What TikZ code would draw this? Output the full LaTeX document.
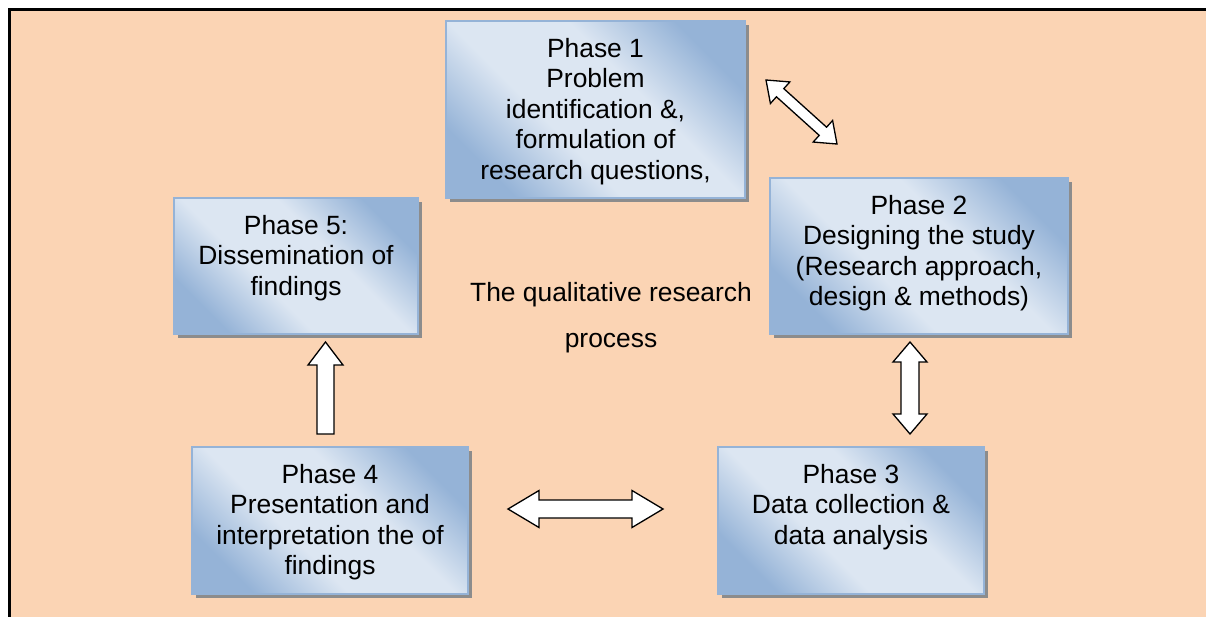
\documentclass[tikz,border=0pt]{standalone}
\usepackage{fontspec}
\setmainfont{Liberation Sans}
\usetikzlibrary{calc,shadows}

\definecolor{peach}{HTML}{FBD4B4}
\definecolor{boxlight}{HTML}{DCE6F2}
\definecolor{boxdark}{HTML}{95B3D7}
\definecolor{shadowgray}{HTML}{8C8C8C}

% dark corners, wide light band across the middle
\pgfdeclareverticalshading{phaseshade}{100bp}{color(0bp)=(boxdark); color(25bp)=(boxdark);
  color(41bp)=(boxlight); color(59bp)=(boxlight); color(75bp)=(boxdark); color(100bp)=(boxdark)}

% text of a phase box, set from the top
\newcommand{\phasetext}[3]{\parbox[t][#2][t]{#1}{\centering #3}}

% block arrows: (from) (to) half shaft, half head, head length
\newcommand{\dblarrow}[5]{%
  \draw[blockarrow] (#1) -- ($(#1)!#5!(#2)!#4!90:(#2)$) -- ($(#1)!#5!(#2)!#3!90:(#2)$)
    -- ($(#2)!#5!(#1)!#3!-90:(#1)$) -- ($(#2)!#5!(#1)!#4!-90:(#1)$) -- (#2)
    -- ($(#2)!#5!(#1)!#4!90:(#1)$) -- ($(#2)!#5!(#1)!#3!90:(#1)$)
    -- ($(#1)!#5!(#2)!#3!-90:(#2)$) -- ($(#1)!#5!(#2)!#4!-90:(#2)$) -- cycle;}
\newcommand{\onearrow}[5]{%
  \draw[blockarrow] ($(#1)!#3!90:(#2)$) -- ($(#2)!#5!(#1)!#3!-90:(#1)$)
    -- ($(#2)!#5!(#1)!#4!-90:(#1)$) -- (#2) -- ($(#2)!#5!(#1)!#4!90:(#1)$)
    -- ($(#2)!#5!(#1)!#3!90:(#1)$) -- ($(#1)!#3!-90:(#2)$) -- cycle;}

\begin{document}
\begin{tikzpicture}[x=1pt, y=-1pt,
    phase/.style={anchor=north west, draw=boxdark, line width=2pt,
      shading=phaseshade, shading angle=-45,
      drop shadow={shadow xshift=4pt, shadow yshift=-4pt, fill=shadowgray, opacity=1},
      inner xsep=0pt, inner ysep=17pt, font=\fontsize{26.4}{30.5}\selectfont},
    blockarrow/.style={draw=black, fill=white, line width=1.3pt, line join=miter}]
  \useasboundingbox (0,0) rectangle (1206,617);
  \fill[peach] (10,10) rectangle (1206,617);
  \draw[line width=2.5pt] (9.7,617) -- (9.7,9.3) -- (1206,9.3);

  \node[phase] (p1) at (445,20) {\phasetext{299pt}{143pt}{Phase 1\\Problem\\identification \&,\\formulation of\\research questions,}};
  \node[phase] (p2) at (769,177) {\phasetext{298pt}{122pt}{Phase 2\\Designing the study\\(Research approach,\\design \& methods)}};
  \node[phase] (p3) at (717,446) {\phasetext{266pt}{113pt}{Phase 3\\Data collection \&\\data analysis}};
  \node[phase] (p4) at (191,446) {\phasetext{276pt}{113pt}{Phase 4\\Presentation and\\interpretation the of\\findings}};
  \node[phase] (p5) at (173,197) {\phasetext{244pt}{102pt}{Phase 5:\\Dissemination of\\findings}};

  \node[align=center, inner sep=0pt, font=\fontsize{26.4}{46}\selectfont] (title) at (611,318) {The qualitative research\\process};

  \coordinate (a12s) at (766,80);
  \coordinate (a12e) at (837,144);
  \coordinate (a23s) at (910,342);
  \coordinate (a23e) at (910,434);
  \coordinate (a43s) at (508,509);
  \coordinate (a43e) at (663,509);
  \coordinate (a45s) at (325.5,434);
  \coordinate (a45e) at (325.5,342);

  \dblarrow{a12s}{a12e}{5.5pt}{14.5pt}{19pt}
  \dblarrow{a23s}{a23e}{9pt}{17pt}{20pt}
  \dblarrow{a43s}{a43e}{9pt}{18.5pt}{31pt}
  \onearrow{a45s}{a45e}{8.5pt}{17.5pt}{23pt}
\end{tikzpicture}
\end{document}
